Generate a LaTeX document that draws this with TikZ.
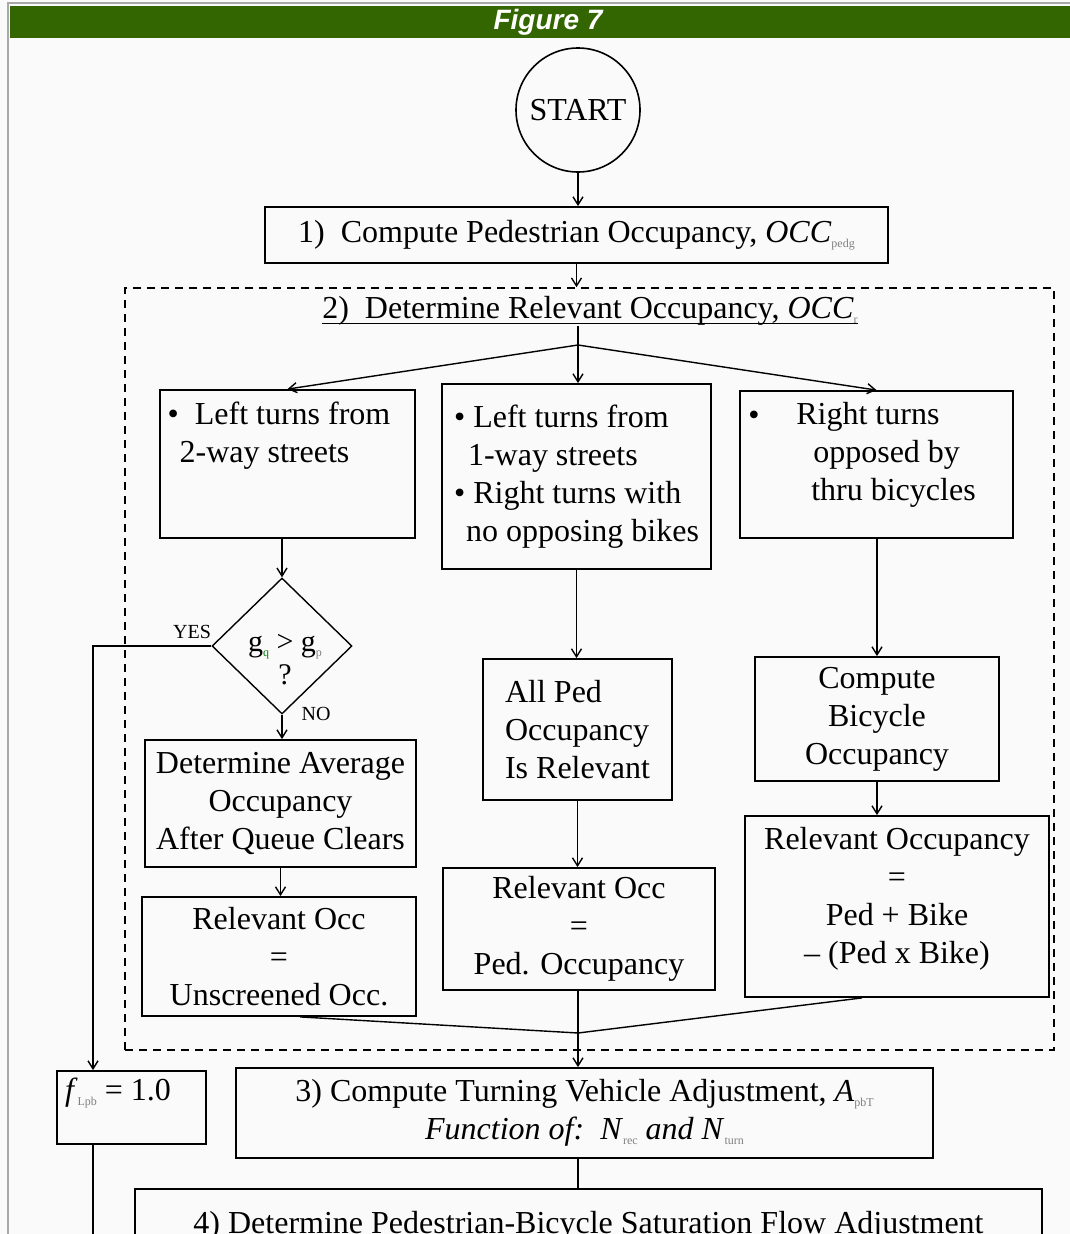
\documentclass[tikz,border=0pt]{standalone}
\usepackage{fontspec}
\setmainfont{Liberation Serif}
\newfontfamily\titlefont{Liberation Sans}
\usetikzlibrary{shapes.geometric,arrows.meta}
\definecolor{bargreen}{HTML}{336600}
\definecolor{framegray}{HTML}{A8A8A8}
\newcommand{\lowsub}[1]{\raisebox{-0.3ex}{\fontsize{12}{12}\selectfont\color{black!50}#1}}
\tikzset{
  box/.style={draw, line width=1.8pt, align=center, inner sep=0pt, font=\fontsize{32}{38}\selectfont},
  plaintxt/.style={inner sep=0pt, align=left, font=\fontsize{32}{38}\selectfont},
  groupbox/.style={draw, line width=1.6pt, dash pattern=on 8pt off 6pt, inner sep=0pt},
  answer/.style={inner sep=0pt, font=\fontsize{20}{20}\selectfont}
}

\begin{document}
\begin{tikzpicture}[x=1pt,y=-1pt,>={Straight Barb[length=8pt,width=10pt]},line width=1.4pt]
\useasboundingbox (0,0) rectangle (1070,1234);
\clip (0,0) rectangle (1070,1234);
\fill[white!98!black] (0,0) rectangle (1070,1234);
\draw[framegray, line width=2pt] (8,1234) -- (8,3) -- (1070,3);
\fill[bargreen] (10,6) rectangle (1070,38);
\node[text=white, inner sep=0pt, font=\titlefont\bfseries\itshape\fontsize{28}{28}\selectfont] (figtitle) at (548,22) {Figure 7};

% top of the chart
\node[draw, circle, line width=1.6pt, minimum size=124, inner sep=0pt, font=\fontsize{32}{38}\selectfont] (start) at (578,110) {START};
\node[box, minimum width=623, minimum height=56] (occped) at (576.5,235) {1)\ \ Compute Pedestrian Occupancy, \textit{OCC}\lowsub{pedg}};
\draw[->] (start.south) -- (start.south |- occped.north);

% step 2 group
\node[groupbox, minimum width=929, minimum height=762] (relgroup) at (589.5,669) {};
\draw[->] (occped.south) -- (occped.south |- relgroup.north);
\node[plaintxt] (reltitle) at (590,311) {2)\ \ Determine Relevant Occupancy, \textit{OCC}\lowsub{r}};
\draw ([yshift=-5pt]reltitle.base west) -- ([yshift=-5pt]reltitle.base east);
\coordinate (fan) at (578,345);

\node[box, minimum width=255, minimum height=148] (twoway) at (287.5,464) {};
\node[plaintxt] (twowaytxt) at (279,436) {\textbullet\ \ Left turns from\\ \hspace*{12pt}2-way streets};
\node[box, minimum width=269, minimum height=185, align=left] (oneway) at (576.5,476.5) {\textbullet\ Left turns from\\ \hspace*{14pt}1-way streets\\ \textbullet\ Right turns with\\ \hspace*{12pt}no opposing bikes};
\node[box, minimum width=273, minimum height=147] (bikeopp) at (876.5,464.5) {};
\node[plaintxt] (bikebullet) at (754,418) {\textbullet};
\node[plaintxt] (bikeopptxt) at (886,455) {Right turns\\ \hspace*{17pt}opposed by\\ \hspace*{15pt}thru bicycles};

\draw (fan |- reltitle.south) -- (fan);
\draw[->] (fan) -- (fan |- oneway.north);
\draw[->] (fan) -- (twoway.north);
\draw[->] (fan) -- (bikeopp.north);

% left column
\node[draw, diamond, line width=1.4pt, minimum width=140, minimum height=136, inner sep=0pt] (gtest) at (282,646) {};
\node[plaintxt, align=center, font=\fontsize{30}{33}\selectfont] (gtesttxt) at (285,660) {g\lowsub{\color{green!50!black}q} > g\lowsub{p}\\ ?};
\node[answer] (yeslbl) at (192,632) {YES};
\node[answer] (nolbl) at (316,714) {NO};
\node[box, minimum width=271, minimum height=127] (avgocc) at (280.5,803.5) {Determine Average\\ Occupancy\\ After Queue Clears};
\node[box, minimum width=274, minimum height=119] (unscr) at (279,956.5) {Relevant Occ\\ =\\ Unscreened Occ.};
\draw[->] (twoway.south -| gtest) -- (gtest.north);
\draw[->] (gtest.south) -- (gtest.south |- avgocc.north);
\draw[->] (avgocc.south) -- (avgocc.south |- unscr.north);

% middle column
\node[box, minimum width=189, minimum height=141, align=left] (allped) at (577.5,729.5) {All Ped\\ Occupancy\\ Is Relevant};
\node[box, minimum width=272, minimum height=122] (pedocc) at (579,929) {Relevant Occ\\ =\\ Ped. Occupancy};
\draw[->] (oneway.south) -- (oneway.south |- allped.north);
\draw[->] (allped.south) -- (allped.south |- pedocc.north);

% right column
\node[box, minimum width=244, minimum height=124] (bikeocc) at (877,719) {Compute\\ Bicycle\\ Occupancy};
\node[box, minimum width=304, minimum height=181] (pedbike) at (897,906.5) {Relevant Occupancy\\ =\\ Ped + Bike\\ -- (Ped x Bike)\\[-16pt] \mbox{}};
\draw[->] (bikeopp.south -| bikeocc) -- (bikeocc.north);
\draw[->] (bikeocc.south) -- (bikeocc.south |- pedbike.north);

% joining the three columns
\coordinate (merge) at (578,1033);
\draw ([xshift=21pt]unscr.south) -- (merge);
\draw ([xshift=-35pt]pedbike.south) -- (merge);
\draw (pedocc.south -| merge) -- (merge);

% steps 3 and 4
\node[box, minimum width=149, minimum height=73] (fone) at (131.5,1107.5) {};
\node[plaintxt] (fonetxt) at (118,1093) {\textit{f}\lowsub{Lpb} = 1.0};
\node[box, minimum width=697, minimum height=90] (turnadj) at (584.5,1113) {3) Compute Turning Vehicle Adjustment, \textit{A}\lowsub{pbT}\\ \textit{Function of:\ \ N}\lowsub{rec} \textit{and\ N}\lowsub{turn}};
\node[box, minimum width=907, minimum height=74] (satflow) at (588.5,1226) {4) Determine Pedestrian-Bicycle Saturation Flow Adjustment};
\coordinate (fout) at (93,1240);
\draw[->] (gtest.west) -| ([xshift=-38.5pt]fone.north);
\draw ([xshift=-38.5pt]fone.south) -- (fout);
\draw[->] (merge) -- (merge |- turnadj.north);
\draw (turnadj.south -| merge) -- (merge |- satflow.north);
\end{tikzpicture}
\end{document}
